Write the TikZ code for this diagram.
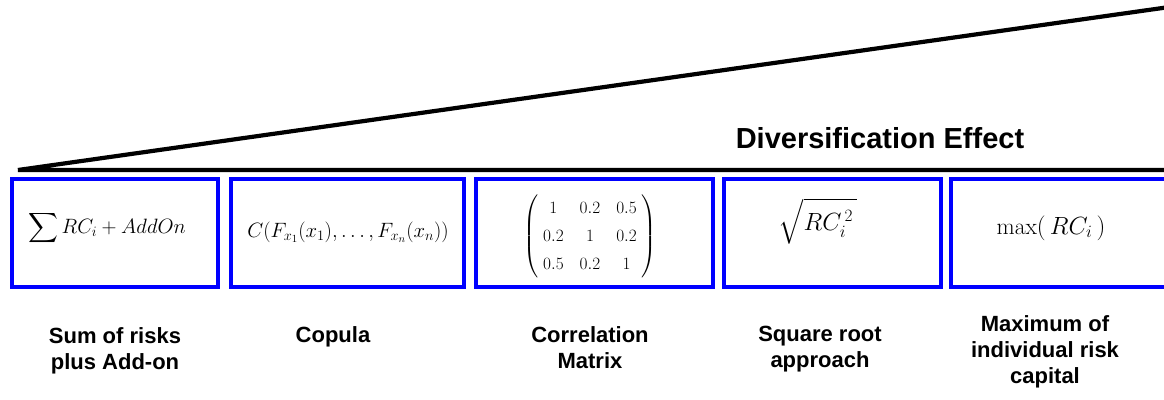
\documentclass[tikz,border=0pt]{standalone}
\usepackage{amsmath}
\usepackage{fontspec}
\newfontfamily\labelfont{Liberation Sans}
\begin{document}
\begin{tikzpicture}[x=1pt,y=-1pt,
  box/.style={draw=blue,line width=3.6pt,minimum height=108pt,inner sep=0pt},
  lbl/.style={font=\labelfont\bfseries\fontsize{22}{26}\selectfont,align=center,anchor=north,inner sep=0pt},
  fml/.style={font=\fontsize{21}{24}\selectfont,inner sep=0pt}]
\useasboundingbox (0,0) rectangle (1164,399);
\coordinate (tip) at (18,170);
\coordinate (hr) at (1166,170);
\coordinate (tr) at (1166,7.5);
\draw[line width=4.2pt,line join=miter] (tr) -- (tip) -- (hr);
\node[font=\labelfont\bfseries\fontsize{29}{32}\selectfont,anchor=base,inner sep=0pt] (div) at (880,148) {Diversification Effect};
% boxes
\node[box,minimum width=206pt] (b1) at (115,233) {};
\node[box,minimum width=233pt] (b2) at (347.5,233) {};
\node[box,minimum width=237pt] (b3) at (594.5,233) {};
\node[box,minimum width=217pt] (b4) at (832.5,233) {};
\node[box,minimum width=232pt] (b5) at (1067,233) {};
% formulas
\node[fml] (f1) at (107,228) {$\displaystyle\sum RC_i + AddOn$};
\node[fml,font=\fontsize{22.2}{26}\selectfont] (f2) at (348,232) {$C(F_{x_1}(x_1),\ldots,F_{x_n}(x_n))$};
\node[fml,font=\fontsize{19}{28}\selectfont] (f3) at (590,236) {$\setlength{\arraycolsep}{8pt}\left(\;\begin{matrix}1 & 0.2 & 0.5\\ 0.2 & 1 & 0.2\\ 0.5 & 0.2 & 1\end{matrix}\;\right)$};
\node[fml,font=\fontsize{24}{26}\selectfont] (f4) at (818,221) {$\displaystyle\sqrt{RC_i^{\,2}\,}$};
\node[fml,font=\fontsize{23.5}{26}\selectfont] (f5) at (1051,228) {$\max(\,RC_i\,)$};
% labels
\node[lbl] (l1) at (115,327.5) {Sum of risks\\plus Add-on};
\node[lbl] (l2) at (333,326) {Copula};
\node[lbl] (l3) at (590,326) {Correlation\\Matrix};
\node[lbl] (l4) at (820,326) {Square root\\approach};
\node[lbl] (l5) at (1045,315.5) {Maximum of\\individual risk\\capital};
\end{tikzpicture}
\end{document}
